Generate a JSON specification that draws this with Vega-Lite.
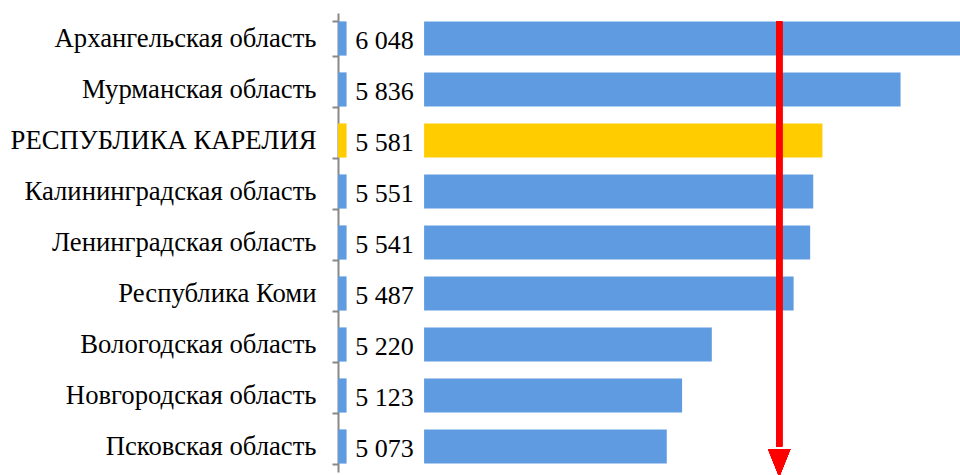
{
  "$schema": "https://vega.github.io/schema/vega-lite/v6.json",
  "autosize": {"type": "none"},
  "width": 622,
  "height": 459,
  "padding": {"left": 338, "top": 13, "right": 0, "bottom": 3},
  "background": "white",
  "config": {
    "view": {"stroke": null},
    "locale": {"number": {"decimal": ",", "thousands": " ", "grouping": [3], "currency": ["", " ₽"]}}
  },
  "data": {
    "values": [
      {"region": "Архангельская область", "value": 6048, "group": "other"},
      {"region": "Мурманская область", "value": 5836, "group": "other"},
      {"region": "РЕСПУБЛИКА КАРЕЛИЯ", "value": 5581, "group": "karelia"},
      {"region": "Калининградская область", "value": 5551, "group": "other"},
      {"region": "Ленинградская область", "value": 5541, "group": "other"},
      {"region": "Республика Коми", "value": 5487, "group": "other"},
      {"region": "Вологодская область", "value": 5220, "group": "other"},
      {"region": "Новгородская область", "value": 5123, "group": "other"},
      {"region": "Псковская область", "value": 5073, "group": "other"}
    ]
  },
  "encoding": {
    "y": {
      "field": "region",
      "type": "nominal",
      "sort": null,
      "scale": {"paddingInner": 0.33, "paddingOuter": 0.165},
      "axis": {
        "title": null,
        "domainColor": "#888888",
        "domainWidth": 2,
        "tickColor": "#888888",
        "tickWidth": 2,
        "tickSize": 6,
        "tickBand": "extent",
        "labelFont": "Liberation Serif",
        "labelFontSize": 26.7,
        "labelColor": "black",
        "labelPadding": 16,
        "labelLimit": 400
      }
    },
    "color": {
      "field": "group",
      "type": "nominal",
      "scale": {"domain": ["other", "karelia"], "range": ["#5e9be1", "#ffcc00"]},
      "legend": null
    }
  },
  "layer": [
    {
      "mark": {"type": "bar", "clip": true},
      "encoding": {
        "x": {"field": "value", "type": "quantitative", "scale": {"domain": [4000, 6030], "zero": false, "nice": false}, "axis": null},
        "x2": {"datum": 4281}
      }
    },
    {
      "mark": {"type": "bar"},
      "encoding": {
        "x": {"datum": 4000, "type": "quantitative"},
        "x2": {"datum": 4028}
      }
    },
    {
      "mark": {"type": "text", "align": "left", "baseline": "middle", "font": "Liberation Serif", "fontSize": 26, "color": "black", "dy": 2},
      "encoding": {
        "x": {"datum": 4056, "type": "quantitative"},
        "text": {"field": "value", "type": "quantitative", "format": ",d"},
        "color": {"value": "black"}
      }
    },
    {
      "mark": {"type": "rule", "color": "#ff0000", "strokeWidth": 6},
      "encoding": {
        "x": {"datum": 5440, "type": "quantitative"},
        "y": {"datum": "Архангельская область", "type": "nominal", "bandPosition": 0},
        "y2": {"datum": "Псковская область"},
        "color": {"value": "#ff0000"}
      }
    },
    {
      "mark": {"type": "point", "shape": "M-0.8,-1L0.8,-1L0,1Z", "size": 784, "filled": true, "opacity": 1},
      "encoding": {
        "x": {"datum": 5440, "type": "quantitative"},
        "y": {"datum": "Псковская область", "type": "nominal", "bandPosition": 0.98},
        "color": {"value": "#ff0000"}
      }
    }
  ]
}
